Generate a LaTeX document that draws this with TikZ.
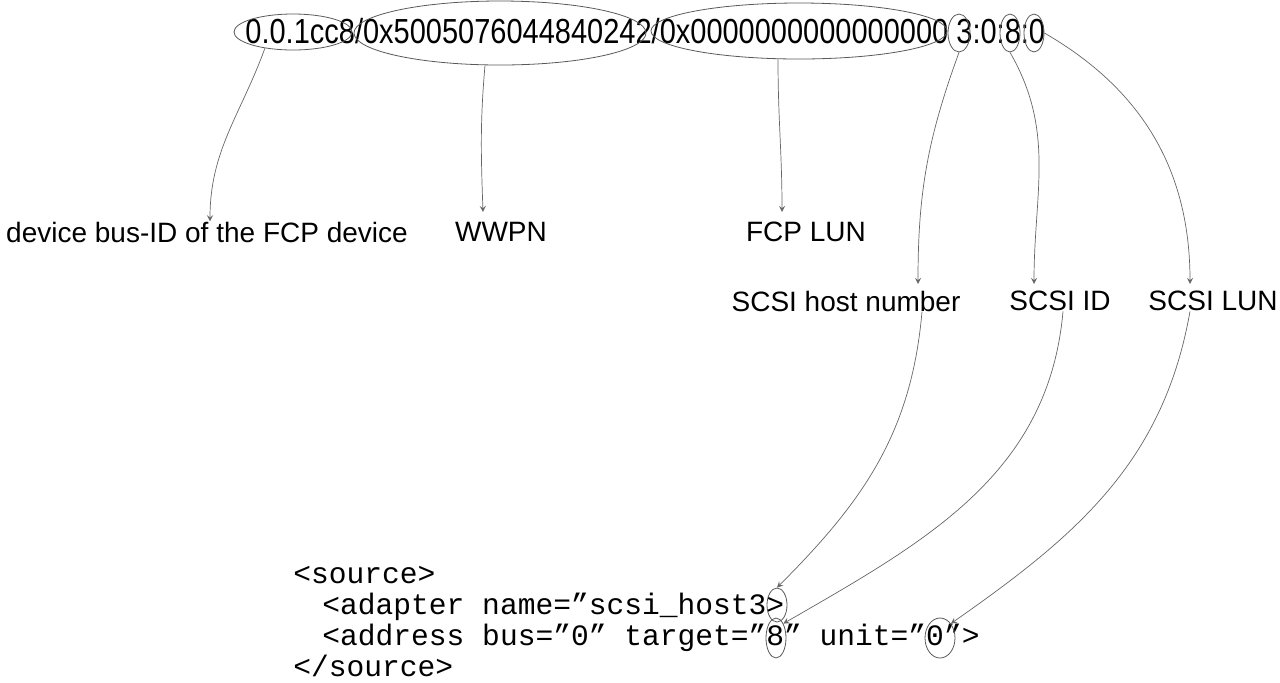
\documentclass[tikz,border=0pt]{standalone}
\usepackage{fontspec}
\setmainfont{Liberation Sans}
\setmonofont{Liberation Mono}
\usetikzlibrary{shapes.geometric}
\tikzset{
  ring/.style={draw=black!65, line width=0.4pt, ellipse, inner sep=0pt},
  pointer/.style={draw=black!60, line width=0.35pt, ->, >=stealth},
  lbl/.style={font=\fontsize{14}{16}\selectfont, inner sep=0pt},
  code/.style={font=\ttfamily\fontsize{14.8}{16}\selectfont, anchor=base west, inner sep=0pt}
}
\begin{document}
\begin{tikzpicture}[x=0.5pt, y=-0.5pt]
    \useasboundingbox (0,0) rectangle (1280,682);
    % device path string
    \node[anchor=base west, inner sep=0pt] (path) at (245,43)
      {\scalebox{1}[1.2]{\fontsize{14.5}{16}\selectfont 0.0.1cc8/0x5005076044840242/0x0000000000000000 3:0:8:0}};
    \node[ring, minimum width=59pt, minimum height=18pt] (busid) at (293,32) {};
    \node[ring, minimum width=146pt, minimum height=32pt] (wwpn) at (500,33) {};
    \node[ring, minimum width=148pt, minimum height=28pt] (lun) at (799,31) {};
    \node[ring, minimum width=11pt, minimum height=19pt] (host) at (959,33) {};
    \node[ring, minimum width=10pt, minimum height=19pt] (id) at (1010,33) {};
    \node[ring, minimum width=10pt, minimum height=19pt] (slun) at (1034,33) {};
    % labels
    \node[lbl] (tbusid) at (207,232) {device bus-ID of the FCP device};
    \node[lbl] (twwpn) at (501,232) {WWPN};
    \node[lbl] (tlun) at (806,232) {FCP LUN};
    \node[lbl] (thost) at (846,301) {SCSI host number};
    \node[lbl] (tid) at (1060,301) {SCSI ID};
    \node[lbl] (tslun) at (1213,301) {SCSI LUN};
    % xml snippet
    \node[code] (l1) at (293,583) {<source>};
    \node[code] (l2) at (322,614) {<adapter name=”scsi\_host3>};
    \node[code] (l3) at (322,645) {<address bus=”0” target=”8” unit=”0”>};
    \node[code] (l4) at (293,676) {</source>};
    \node[ring, minimum width=10pt, minimum height=17pt] (xhost) at (777,605) {};
    \node[ring, minimum width=10pt, minimum height=20pt] (xid) at (776,638) {};
    \node[ring, minimum width=15pt, minimum height=20pt] (xlun) at (940,638) {};
    % pointers
    \draw[pointer] (busid.210) to[out=250, in=90] (tbusid.north -| 210,0);
    \draw[pointer] (wwpn.south -| 485,0) to[out=265, in=92] (483,212);
    \draw[pointer] (lun.south -| 778,0) to[out=270, in=90] (782,212);
    \draw[pointer] (host.south) to[out=250, in=90] (918,284);
    \draw[pointer] (id.south) to[out=300, in=90] (1034,284);
    \draw[pointer] (slun.east) to[out=330, in=90] (1190,284);
    \draw[pointer] (thost.south -| 922,0) to[out=265, in=45] (xhost.north);
    \draw[pointer] (tid.south -| 1063,0) to[out=265, in=30] (xid.north east);
    \draw[pointer] (tslun.south -| 1190,0) to[out=260, in=35] (xlun.north east);
\end{tikzpicture}
\end{document}
